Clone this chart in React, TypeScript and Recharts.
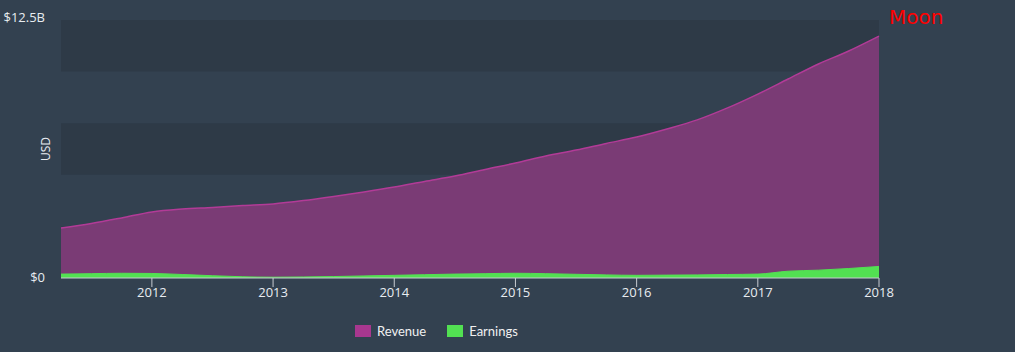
import React from 'react';
import { AreaChart, Area, XAxis, YAxis, ReferenceArea } from 'recharts';

const quarters = [
  2011.25, 2011.5, 2011.75, 2012, 2012.25, 2012.5, 2012.75, 2013, 2013.25, 2013.5, 2013.75, 2014,
  2014.25, 2014.5, 2014.75, 2015, 2015.25, 2015.5, 2015.75, 2016, 2016.25, 2016.5, 2016.75, 2017,
  2017.25, 2017.5, 2017.75, 2018,
];
// billions USD
const revenue = [
  2.42, 2.64, 2.91, 3.2, 3.34, 3.42, 3.51, 3.59, 3.75, 3.95, 4.17, 4.41,
  4.68, 4.94, 5.26, 5.57, 5.91, 6.2, 6.52, 6.83, 7.22, 7.66, 8.24, 8.91,
  9.64, 10.37, 11.0, 11.72,
];
const earnings = [
  0.19, 0.21, 0.23, 0.22, 0.17, 0.11, 0.06, 0.04, 0.05, 0.07, 0.1, 0.13,
  0.16, 0.19, 0.21, 0.23, 0.21, 0.18, 0.15, 0.13, 0.14, 0.15, 0.17, 0.19,
  0.33, 0.38, 0.46, 0.56,
];
const yearTicks = [2012, 2013, 2014, 2015, 2016, 2017, 2018];
const yTicks = [0, 12.5];
const bands: [number, number][] = [[0, 2.5], [5, 7.5], [10, 12.5]];

const data = quarters.map((q, i) => ({ q, Revenue: revenue[i], Earnings: earnings[i] }));

const FONT = '"Open Sans", Lato, sans-serif';

const YTick = ({ y, payload }: any) => (
  <text x={45} y={y} dy={payload.value === 0 ? 4 : 2} textAnchor="end" fill="#e8ecf0" fontSize={13} fontFamily={FONT}>
    {payload.value === 0 ? '$0' : `$${payload.value}B`}
  </text>
);

export default function App() {
  return (
    <div style={{ position: 'fixed', left: 0, top: 0, width: 1015, height: 352, background: '#334150' }}>
      <AreaChart width={1015} height={352} data={data} margin={{ top: 20, right: 136, bottom: 0, left: 0 }}>
        <XAxis
          dataKey="q"
          type="number"
          domain={[2011.25, 2018]}
          ticks={yearTicks}
          stroke="#c8ccd2"
          tickSize={9}
          height={74}
          tick={{ fill: '#e8ecf0', fontSize: 13, fontFamily: FONT }}
          tickMargin={1}
        />
        <YAxis domain={[0, 12.5]} ticks={yTicks} width={61} axisLine={false} tickLine={false} tick={<YTick />} />
        {bands.map(([a, b]) => (
          <ReferenceArea key={a} y1={a} y2={b} fill="#2e3a47" fillOpacity={1} stroke="none" ifOverflow="visible" />
        ))}
        <Area
          type="monotone"
          dataKey="Revenue"
          stroke="#b23b97"
          strokeWidth={1.5}
          fill="#7a3b75"
          fillOpacity={1}
          isAnimationActive={false}
        />
        <Area
          type="monotone"
          dataKey="Earnings"
          stroke="#52e052"
          strokeWidth={1}
          fill="#52e052"
          fillOpacity={1}
          isAnimationActive={false}
        />
      </AreaChart>
      <div
        style={{
          position: 'absolute',
          left: 46,
          top: 149,
          transform: 'translate(-50%, -50%) rotate(-90deg)',
          fontFamily: FONT,
          fontSize: 12,
          color: '#e8ecf0',
          lineHeight: '14px',
        }}
      >
        USD
      </div>
      <div
        style={{
          position: 'absolute',
          left: 355,
          top: 323,
          display: 'flex',
          alignItems: 'center',
          fontFamily: 'Lato, sans-serif',
          fontSize: 13,
          color: '#f0f0f0',
        }}
      >
        <span style={{ width: 16, height: 12, background: '#a8378f', marginRight: 6 }} />
        <span style={{ marginRight: 21 }}>Revenue</span>
        <span style={{ width: 16, height: 12, background: '#52e052', marginRight: 6 }} />
        <span>Earnings</span>
      </div>
      <div
        style={{
          position: 'absolute',
          left: 889,
          top: 5,
          color: '#ff0000',
          fontSize: 20,
          fontFamily: '"DejaVu Sans", sans-serif',
        }}
      >
        Moon
      </div>
    </div>
  );
}
